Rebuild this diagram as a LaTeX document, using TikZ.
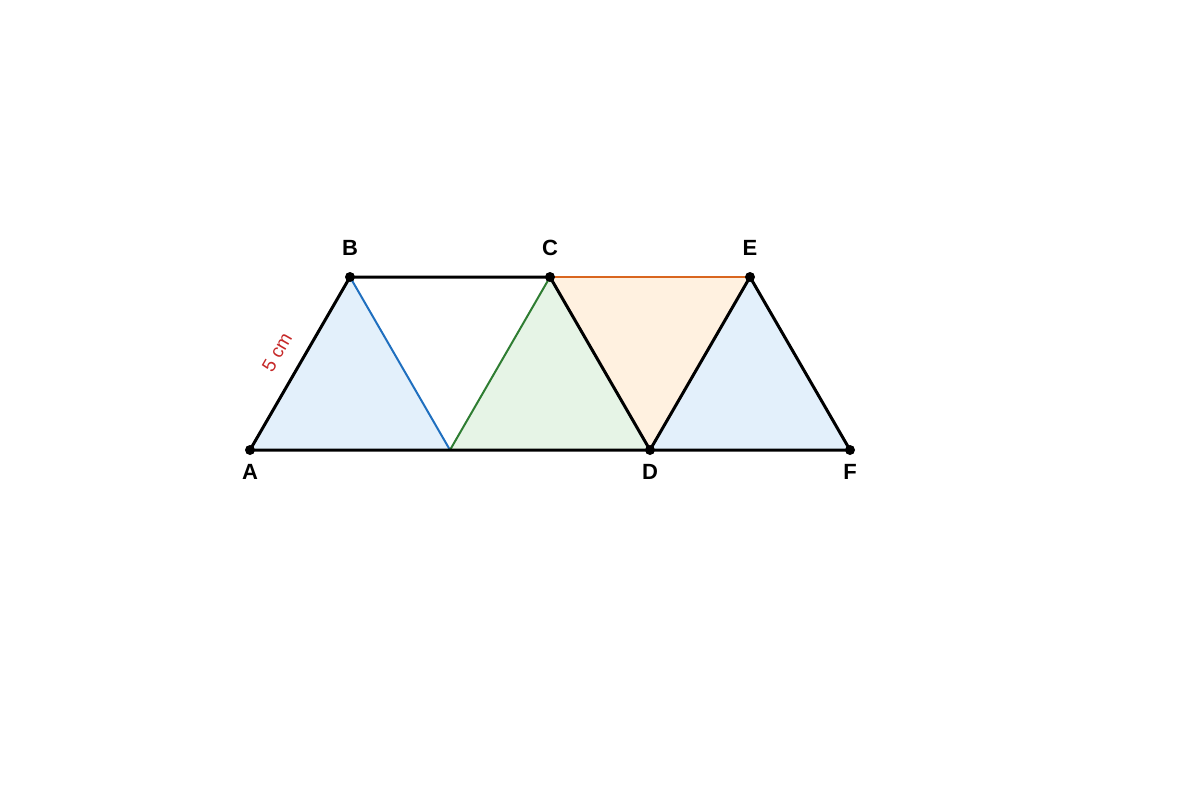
\documentclass[tikz,border=0pt]{standalone}
\usepackage{fontspec}
\setmainfont{Liberation Sans}
\begin{document}
\begin{tikzpicture}[x=1pt,y=-1pt,
  edge/.style={line width=3pt,line join=round,line cap=round},
  pt/.style={circle,fill=black,inner sep=0pt,minimum size=10pt},
  lbl/.style={font=\fontsize{22}{26}\selectfont\bfseries},
]
\definecolor{bfill}{HTML}{E3F0FB}
\definecolor{bline}{HTML}{1F6FBF}
\definecolor{gfill}{HTML}{E6F4E6}
\definecolor{gline}{HTML}{2E7D32}
\definecolor{ofill}{HTML}{FFF1E0}
\definecolor{oline}{HTML}{D9661F}
\definecolor{redlbl}{HTML}{C62828}
\useasboundingbox[fill=white] (0,0) rectangle (1200,800);
\coordinate (A) at (250,450);
\coordinate (B) at (350,277);
\coordinate (C) at (550,277);
\coordinate (E) at (750,277);
\coordinate (D) at (650,450);
\coordinate (F) at (850,450);
\coordinate (M) at (450,450);
\fill[bfill] (A) -- (B) -- (M) -- cycle;
\fill[gfill] (M) -- (C) -- (D) -- cycle;
\fill[ofill] (C) -- (E) -- (D) -- cycle;
\fill[bfill] (D) -- (E) -- (F) -- cycle;
\draw[bline,line width=2pt] (B) -- (M);
\draw[gline,line width=2pt] (M) -- (C);
\draw[oline,line width=2pt] (C) -- (E);
\draw[edge] (A) -- (B) -- (C) -- (D) -- (E) -- (F) -- (A);
\foreach \p in {A,B,C,D,E,F} \node[pt] (n\p) at (\p) {};
\node[lbl] (lA) at (250,472) {A};
\node[lbl] (lB) at (350,248) {B};
\node[lbl] (lC) at (550,248) {C};
\node[lbl] (lE) at (750,248) {E};
\node[lbl] (lD) at (650,472) {D};
\node[lbl] (lF) at (850,472) {F};
\node[text=redlbl,font=\fontsize{19}{22}\selectfont,rotate=60] (len) at (277,352) {5 cm};
\end{tikzpicture}
\end{document}
